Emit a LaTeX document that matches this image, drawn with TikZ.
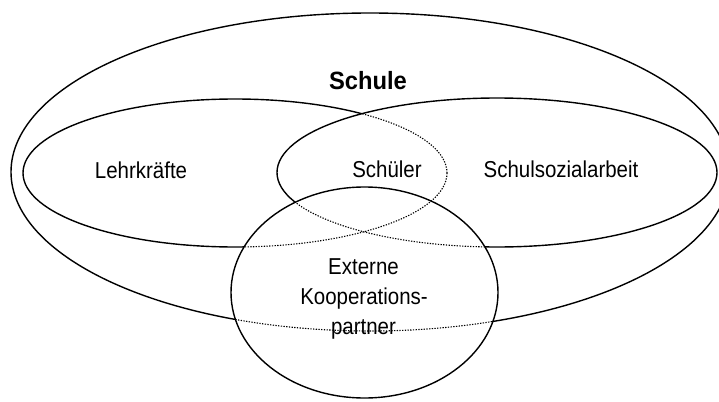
\documentclass[tikz,border=0pt]{standalone}
\usepackage{fontspec}
\setmainfont{Liberation Sans}
\begin{document}
\begin{tikzpicture}[x=1pt,y=-1pt,
  solidline/.style={line width=1.4pt, black},
  hiddenline/.style={line width=1.1pt, black, dash pattern=on 1.3pt off 1.4pt},
  lbl/.style={font=\fontsize{23}{30}\selectfont, inner sep=0pt, anchor=base, xscale=0.89},
  titlelbl/.style={font=\fontsize{25}{28}\selectfont\bfseries, inner sep=0pt, anchor=base, xscale=0.95},
  ellL/.style={x radius=212pt, y radius=74pt},
  ellR/.style={x radius=220pt, y radius=74.5pt},
  ellO/.style={x radius=359pt, y radius=159pt},
  ellE/.style={x radius=133.5pt, y radius=105.5pt},
]
\useasboundingbox (0,0) rectangle (719,401);
\coordinate (cL) at (235,173);
\coordinate (cR) at (497,172.5);
\coordinate (cO) at (370,172);
\coordinate (cE) at (364.5,292.5);

% Lehrkraefte (behind Schulsozialarbeit)
\draw[solidline] (cL) ellipse [ellL];
% Schulsozialarbeit in front of Lehrkraefte
\fill[white] (cR) ellipse [ellR];
\begin{scope}
  \clip (cR) ellipse [ellR];
  \draw[hiddenline] (cL) ellipse [ellL];
\end{scope}
\draw[solidline] (cR) ellipse [ellR];
% Schule
\draw[solidline] (cO) ellipse [ellO];
% Externe Kooperationspartner in front of all
\fill[white] (cE) ellipse [ellE];
\begin{scope}
  \clip (cE) ellipse [ellE];
  \draw[hiddenline] (cL) ellipse [ellL];
  \draw[hiddenline] (cR) ellipse [ellR];
  \draw[hiddenline] (cO) ellipse [ellO];
\end{scope}
\draw[solidline] (cE) ellipse [ellE];

% labels
\node[titlelbl] (schule) at (368,90) {Schule};
\node[lbl] (lehr) at (141,178) {Lehrkräfte};
\node[lbl] (schueler) at (387,177) {Schüler};
\node[lbl] (sozial) at (561,177) {Schulsozialarbeit};
\node[lbl] (ext1) at (363.5,274) {Externe};
\node[lbl] (ext2) at (364,304) {Kooperations-};
\node[lbl] (ext3) at (363.5,334) {partner};
\end{tikzpicture}
\end{document}
